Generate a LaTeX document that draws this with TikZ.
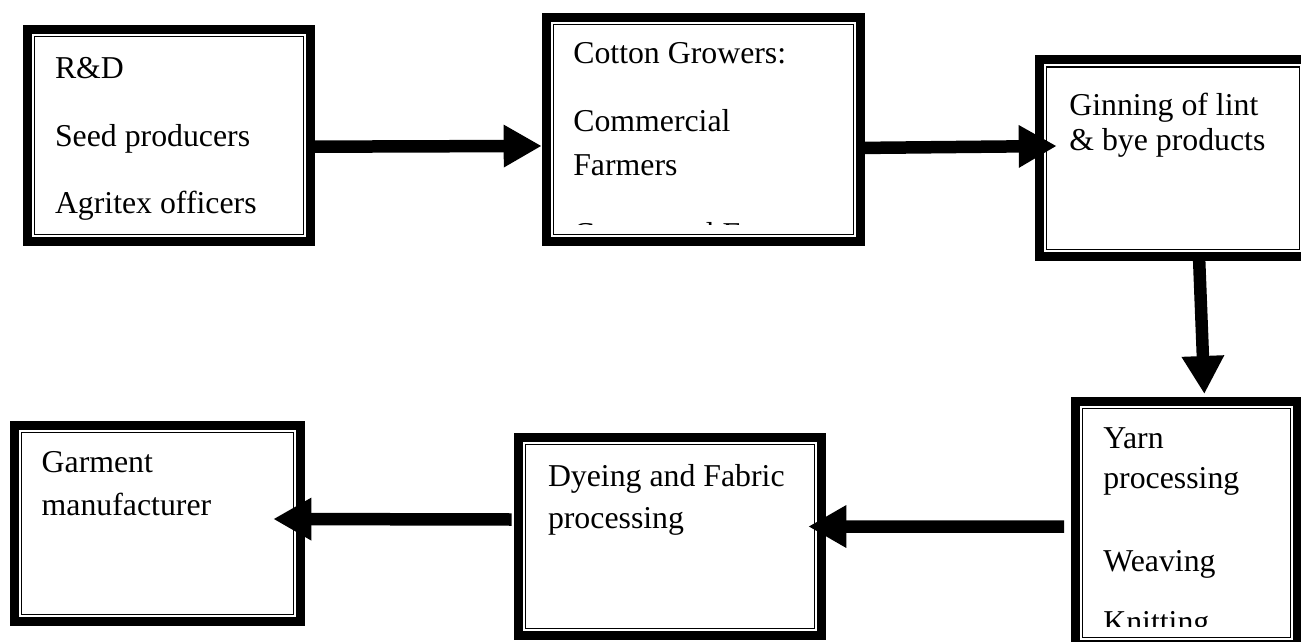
\documentclass[tikz,border=0pt]{standalone}
\usepackage{fontspec}
\setmainfont{Liberation Serif}
\usetikzlibrary{arrows.meta}

\tikzset{
  stagebox/.style={draw, line width=9pt, inner sep=0pt, outer sep=0pt,
    path picture={\draw[line width=1.2pt]
      ([shift={(7pt,-7pt)}]path picture bounding box.north west) rectangle
      ([shift={(-7pt,7pt)}]path picture bounding box.south east);}},
  label/.style={anchor=base west, inner sep=0pt, outer sep=0pt,
    font=\fontsize{31.8}{38}\selectfont},
  flow/.style={line width=12.5pt, -{Triangle[length=38pt,width=40pt]}},
}

\begin{document}
\begin{tikzpicture}[x=1pt, y=-1pt]
\useasboundingbox (0,0) rectangle (1301,642);

% stage boxes
\node[stagebox, minimum width=283.3pt, minimum height=212pt]   (rd)      at (168.85,135.5) {};
\node[stagebox, minimum width=314.3pt, minimum height=224.3pt] (growers) at (703.35,129.35) {};
\node[stagebox, minimum width=267pt,   minimum height=196.2pt] (gin)     at (1173,158.1) {};
\node[stagebox, minimum width=222.3pt, minimum height=242.7pt] (yarn)    at (1186.35,523.15) {};
\node[stagebox, minimum width=303pt,   minimum height=198pt]   (dye)     at (670,536.5) {};
\node[stagebox, minimum width=286pt,   minimum height=196pt]   (garment) at (157.5,523.2) {};

% box texts
\node[label] (rd1) at (55,78.3)  {R\&D};
\node[label] (rd2) at (55,146.7) {Seed producers};
\node[label] (rd3) at (55,213.3) {Agritex officers};

\node[label] (gr1) at (573.3,63.3) {Cotton Growers:};
\node[label] (gr2) at (573.3,131.7) {Commercial};
\node[label] (gr3) at (573.3,175) {Farmers};
\begin{scope}
  \clip (545,20) rectangle (860,224.6);
  \node[label] (gr4) at (573.3,244.5) {Communal Farmers};
\end{scope}

\node[label] (gi1) at (1069.3,115) {Ginning of lint};
\node[label] (gi2) at (1069.3,150) {\& bye products};

\node[label] (ya1) at (1103.3,448.3) {Yarn};
\node[label] (ya2) at (1103.3,488) {processing};
\node[label] (ya3) at (1103.3,571) {Weaving};
\begin{scope}
  \clip (1080,410) rectangle (1290,626);
  \node[label] (ya4) at (1103.3,632) {Knitting};
\end{scope}

\node[label] (dy1) at (548,486) {Dyeing and Fabric};
\node[label] (dy2) at (548,528.3) {processing};

\node[label] (ga1) at (41.7,472.7) {Garment};
\node[label] (ga2) at (41.7,515) {manufacturer};

% connectors
\draw[flow] ([shift={(0,11.2)}]rd.east) -- ([shift={(-4.5,16.6)}]growers.west);
\draw[flow] ([shift={(0,18.6)}]growers.east) -- ([shift={(17.2,-12.1)}]gin.west);
\draw[flow] ([shift={(26,0)}]gin.south) -- ([shift={(18,-7.8)}]yarn.north);
\draw[flow] ([shift={(-11.2,3.4)}]yarn.west) -- ([shift={(-13.2,-10)}]dye.east);
\draw[flow] ([shift={(-6.8,-17)}]dye.west) -- ([shift={(-27.2,-4.2)}]garment.east);
\end{tikzpicture}
\end{document}
